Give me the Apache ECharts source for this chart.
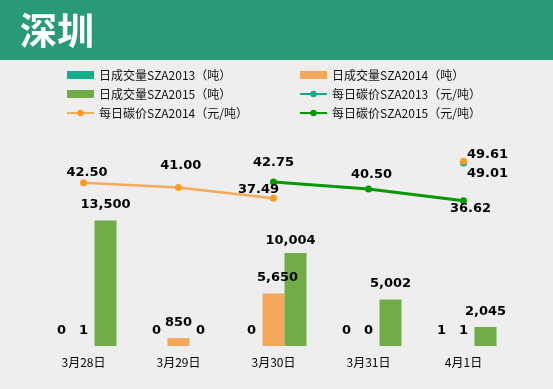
<!DOCTYPE html>
<html>
<head>
<meta charset="utf-8">
<script src="https://cdn.jsdelivr.net/npm/echarts@6/dist/echarts.min.js"></script>
<style>
html,body{margin:0;padding:0;background:#eeeeee;}
#chart{width:553px;height:389px;}
</style>
</head>
<body>
<div id="chart"></div>
<script>
// ---- data ----
const categories = ['3月28日', '3月29日', '3月30日', '3月31日', '4月1日'];
const volume2013 = [0, 0, 0, 0, 1];
const volume2014 = [1, 850, 5650, 0, 1];
const volume2015 = [13500, 0, 10004, 5002, 2045];
const price2013 = [null, null, null, null, 49.01];
const price2014 = [42.50, 41.00, 37.49, null, 49.61];
const price2015 = [null, null, 42.75, 40.50, 36.62];
const seriesNames = [
  '日成交量SZA2013（吨）', '日成交量SZA2014（吨）', '日成交量SZA2015（吨）',
  '每日碳价SZA2013（元/吨）', '每日碳价SZA2014（元/吨）', '每日碳价SZA2015（元/吨）'
];
const title = '深圳';

// ---- label placement (style only) ----
const barLabelShift = {
  1: {2: [4, 0]},
  2: {2: [-5, 3]}
};
const lineLabelStyle = {
  3: {4: {position: 'right', offset: [0, 10.5]}},
  4: {0: {position: 'top', offset: [3.5, -0.5]},
      1: {position: 'top', offset: [2.3, -11.6]},
      2: {position: 'top', offset: [-15, 1]},
      4: {position: 'right', offset: [0, -6.7]}},
  5: {2: {position: 'top', offset: [0, -9.3]},
      3: {position: 'top', offset: [3, -4.5]},
      4: {position: 'bottom', offset: [7, -2]}}
};

const labelFont = {fontFamily: 'DejaVu Sans', fontWeight: 'bold', fontSize: 13, color: '#000'};
const fmtBar = p => Number(p.value).toLocaleString('en-US');
const fmtLine = p => Number(p.value).toFixed(2);

function barData(arr, si) {
  return arr.map((v, i) => {
    const s = barLabelShift[si] && barLabelShift[si][i];
    return s ? {value: v, label: {offset: s}} : v;
  });
}
function lineData(arr, si) {
  return arr.map((v, i) => {
    if (v === null) return null;
    const s = lineLabelStyle[si] && lineLabelStyle[si][i];
    return s ? {value: v, label: {position: s.position, offset: s.offset}} : v;
  });
}

const barColors = ['#12ad8a', '#f3a75a', '#70ad47'];
const lineColors = ['#1aa88a', '#f5aa5c', '#009a00'];
const dotColors = ['#1aa88a', '#ff9a1e', '#009a00'];
const lineWidths = [2.5, 2.5, 3];

const barArrays = [volume2013, volume2014, volume2015];
const lineArrays = [price2013, price2014, price2015];

const series = [];
barArrays.forEach((arr, k) => {
  series.push({
    name: seriesNames[k], type: 'bar', yAxisIndex: 0,
    data: barData(arr, k), barWidth: 22, barGap: '0%',
    itemStyle: {color: barColors[k]},
    label: Object.assign({show: true, position: 'top', distance: 9, formatter: fmtBar}, labelFont),
    z: 2
  });
});
lineArrays.forEach((arr, k) => {
  series.push({
    name: seriesNames[3 + k], type: 'line', yAxisIndex: 1,
    data: lineData(arr, 3 + k),
    connectNulls: false, showSymbol: true, symbol: 'circle', symbolSize: 7,
    lineStyle: {color: lineColors[k], width: lineWidths[k]},
    itemStyle: {color: dotColors[k]},
    label: Object.assign({show: true, position: 'top', distance: 0, formatter: fmtLine}, labelFont),
    z: 3
  });
});

const legendBase = {
  orient: 'vertical', itemWidth: 27, itemHeight: 8, itemGap: 7, padding: 0,
  textStyle: {fontFamily: 'Noto Sans CJK SC', fontSize: 12, lineHeight: 12, color: '#111'}
};
const legItem = i => (i < 3 ? {name: seriesNames[i], icon: 'rect'} : {name: seriesNames[i]});

const chart = echarts.init(document.getElementById('chart'), null, {renderer: 'canvas'});
chart.setOption({
  backgroundColor: '#eeeeee',
  animation: false,
  graphic: [
    {type: 'rect', left: 0, top: 0, shape: {width: 553, height: 60}, style: {fill: '#289a78'}, z: 0},
    {type: 'text', left: 20, top: 12, style: {text: title, fill: '#ffffff', font: 'bold 37px "Noto Sans CJK SC"'}, z: 1}
  ],
  legend: [
    Object.assign({left: 66, top: 69, data: [legItem(0), legItem(2), legItem(4)]}, legendBase),
    Object.assign({left: 299, top: 69, data: [legItem(1), legItem(3), legItem(5)]}, legendBase)
  ],
  grid: {left: 36, right: 42, top: 160, bottom: 43, containLabel: false},
  xAxis: {
    type: 'category', data: categories,
    axisLine: {show: false}, axisTick: {show: false},
    axisLabel: {margin: 10, fontSize: 12, color: '#000', fontFamily: 'Noto Sans CJK SC'}
  },
  yAxis: [
    {type: 'value', min: 0, max: 20000, show: false, splitLine: {show: false}},
    {type: 'value', min: -11, max: 50, show: false, splitLine: {show: false}}
  ],
  series: series
});
</script>
</body>
</html>
